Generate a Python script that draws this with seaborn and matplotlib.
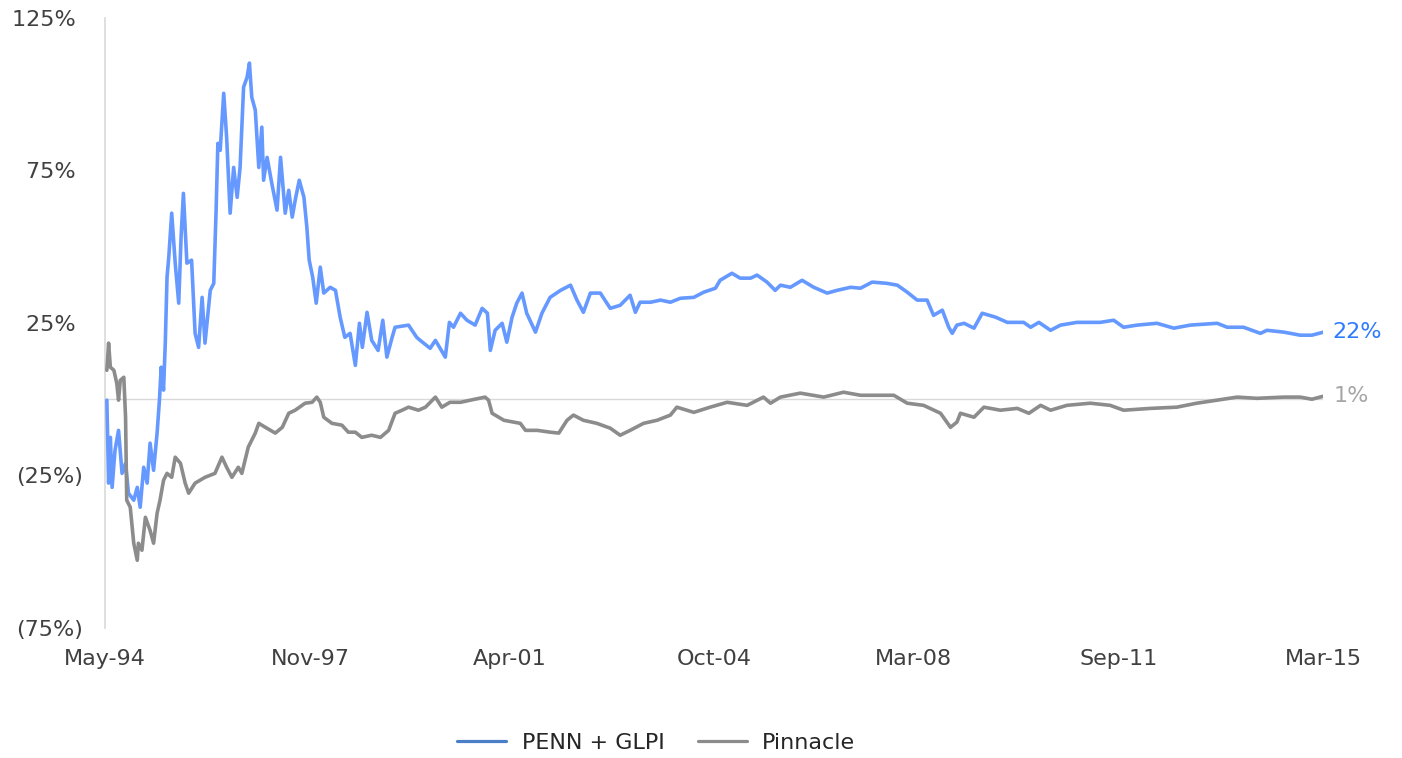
import numpy as np
import pandas as pd
import seaborn as sns
import matplotlib.pyplot as plt
import matplotlib.dates as mdates
from matplotlib.lines import Line2D
from matplotlib.ticker import FuncFormatter

# decimal year, cumulative return in %
penn_year = [1994.36, 1994.39, 1994.42, 1994.45, 1994.50, 1994.56, 1994.62, 1994.68, 1994.73, 1994.82,
             1994.88, 1994.93, 1994.99, 1995.05, 1995.10, 1995.16, 1995.22, 1995.26, 1995.29, 1995.33,
             1995.36, 1995.39, 1995.42, 1995.47, 1995.53, 1995.59, 1995.63, 1995.67, 1995.73, 1995.81,
             1995.87, 1995.93, 1995.99, 1996.04, 1996.13, 1996.19, 1996.23, 1996.26, 1996.30, 1996.36,
             1996.41, 1996.47, 1996.53, 1996.59, 1996.64, 1996.70, 1996.76, 1996.80, 1996.84, 1996.90,
             1996.96, 1997.01, 1997.04, 1997.10, 1997.18, 1997.27, 1997.33, 1997.41, 1997.47, 1997.53,
             1997.58, 1997.65, 1997.73, 1997.78, 1997.82, 1997.88, 1997.94, 1998.01, 1998.07, 1998.18,
             1998.27, 1998.35, 1998.43, 1998.52, 1998.61, 1998.68, 1998.73, 1998.81, 1998.89, 1999.00,
             1999.08, 1999.15, 1999.24, 1999.29, 1999.52, 1999.66, 1999.72, 1999.89, 1999.98, 2000.06,
             2000.15, 2000.22, 2000.29, 2000.41, 2000.52, 2000.66, 2000.78, 2000.87, 2000.92, 2001.00,
             2001.12, 2001.20, 2001.29, 2001.37, 2001.46, 2001.54, 2001.69, 2001.80, 2001.94, 2002.12,
             2002.29, 2002.40, 2002.51, 2002.63, 2002.80, 2002.97, 2003.14, 2003.31, 2003.40, 2003.48,
             2003.66, 2003.83, 2004.00, 2004.17, 2004.40, 2004.57, 2004.77, 2004.85, 2005.05, 2005.19,
             2005.37, 2005.48, 2005.65, 2005.79, 2005.88, 2006.05, 2006.25, 2006.45, 2006.68, 2006.85,
             2007.08, 2007.25, 2007.45, 2007.70, 2007.88, 2008.05, 2008.22, 2008.39, 2008.50, 2008.65,
             2008.76, 2008.82, 2008.90, 2009.02, 2009.19, 2009.33, 2009.56, 2009.76, 2010.04, 2010.16,
             2010.30, 2010.50, 2010.67, 2010.95, 2011.35, 2011.58, 2011.75, 2011.98, 2012.32, 2012.61,
             2012.89, 2013.35, 2013.52, 2013.80, 2014.09, 2014.20, 2014.49, 2014.77, 2014.97, 2015.17]
penn_ret = [-0.3, -27.5, -12.5, -28.9, -16.7, -10.2, -24.3, -21.0, -30.8, -33.1,
            -28.9, -35.4, -22.3, -27.5, -14.4, -23.3, -11.1, -0.3, 10.5, 3.0,
            18.4, 40.0, 46.6, 61.0, 44.6, 31.5, 53.1, 67.5, 44.6, 45.6,
            21.6, 17.0, 33.4, 18.4, 35.7, 38.0, 62.0, 83.9, 81.6, 100.3,
            85.9, 61.0, 76.0, 66.2, 76.0, 102.3, 105.6, 110.2, 99.0, 94.8,
            76.0, 89.2, 71.8, 79.3, 70.8, 62.0, 79.3, 61.0, 68.5, 59.7,
            65.2, 71.8, 66.2, 56.4, 45.6, 40.0, 31.5, 43.3, 34.8, 36.7,
            35.7, 26.9, 20.3, 21.6, 11.1, 24.9, 17.0, 28.5, 19.3, 16.0,
            25.9, 13.8, 20.3, 23.6, 24.3, 20.3, 19.3, 16.7, 19.3, 16.7,
            13.8, 25.2, 23.6, 28.2, 25.9, 24.3, 29.8, 28.2, 16.0, 22.6,
            24.9, 18.7, 26.9, 31.5, 34.8, 28.2, 22.0, 28.2, 33.4, 35.7,
            37.4, 32.5, 28.5, 34.8, 34.8, 29.8, 30.8, 34.1, 28.5, 31.8,
            31.8, 32.5, 31.8, 33.1, 33.4, 35.1, 36.4, 39.0, 41.3, 39.7,
            39.7, 40.7, 38.4, 35.7, 37.4, 36.7, 39.0, 36.7, 34.8, 35.7,
            36.7, 36.4, 38.4, 38.0, 37.4, 35.1, 32.5, 32.5, 27.5, 29.2,
            23.6, 21.6, 24.3, 24.9, 23.3, 28.2, 26.9, 25.2, 25.2, 23.6,
            25.2, 22.6, 24.3, 25.2, 25.2, 25.9, 23.6, 24.3, 24.9, 23.3,
            24.3, 24.9, 23.6, 23.6, 21.6, 22.6, 22.0, 21.0, 21.0, 22.0]

pnk_year = [1994.36, 1994.39, 1994.42, 1994.48, 1994.53, 1994.56, 1994.59, 1994.65, 1994.68, 1994.70,
            1994.76, 1994.82, 1994.88, 1994.90, 1994.96, 1995.02, 1995.10, 1995.16, 1995.22, 1995.27,
            1995.33, 1995.39, 1995.47, 1995.53, 1995.62, 1995.70, 1995.76, 1995.87, 1996.04, 1996.21,
            1996.33, 1996.41, 1996.50, 1996.61, 1996.67, 1996.78, 1996.90, 1996.96, 1997.07, 1997.24,
            1997.36, 1997.47, 1997.58, 1997.75, 1997.87, 1997.95, 1998.01, 1998.07, 1998.21, 1998.38,
            1998.49, 1998.61, 1998.72, 1998.89, 1999.04, 1999.18, 1999.29, 1999.41, 1999.52, 1999.69,
            1999.81, 1999.98, 2000.09, 2000.23, 2000.41, 2000.58, 2000.83, 2000.89, 2000.95, 2001.15,
            2001.43, 2001.52, 2001.72, 2001.94, 2002.09, 2002.23, 2002.34, 2002.51, 2002.74, 2002.97,
            2003.14, 2003.31, 2003.54, 2003.77, 2004.00, 2004.11, 2004.40, 2004.68, 2004.97, 2005.31,
            2005.59, 2005.71, 2005.88, 2006.22, 2006.62, 2006.96, 2007.25, 2007.82, 2008.05, 2008.33,
            2008.62, 2008.79, 2008.90, 2008.96, 2009.19, 2009.36, 2009.64, 2009.93, 2010.13, 2010.33,
            2010.50, 2010.78, 2011.18, 2011.52, 2011.75, 2012.21, 2012.66, 2013.00, 2013.35, 2013.69,
            2014.03, 2014.49, 2014.77, 2014.97, 2015.17]
pnk_ret = [9.5, 18.4, 10.5, 9.5, 5.2, -0.3, 6.2, 7.2, -5.9, -33.1,
           -35.4, -47.2, -52.8, -47.2, -49.5, -38.7, -43.0, -47.2, -37.4, -33.1,
           -26.6, -24.3, -25.6, -19.0, -21.0, -27.5, -30.8, -27.5, -25.6, -24.3,
           -19.0, -22.3, -25.6, -22.3, -24.3, -15.7, -11.1, -7.9, -9.2, -11.1,
           -9.2, -4.6, -3.6, -1.3, -1.0, 0.7, -1.0, -5.9, -7.9, -8.5,
           -10.8, -10.8, -12.5, -11.8, -12.5, -10.2, -4.6, -3.6, -2.6, -3.6,
           -2.6, 0.7, -2.6, -1.0, -1.0, -0.3, 0.7, -0.3, -4.6, -6.9,
           -7.9, -10.2, -10.2, -10.8, -11.1, -6.9, -5.2, -6.9, -7.9, -9.5,
           -11.8, -10.2, -7.9, -6.9, -5.2, -2.6, -4.3, -2.6, -1.0, -2.0,
           0.7, -1.3, 0.7, 2.0, 0.7, 2.3, 1.3, 1.3, -1.3, -2.0,
           -4.6, -9.2, -7.5, -4.6, -5.9, -2.6, -3.6, -3.0, -4.6, -2.0,
           -3.6, -2.0, -1.3, -2.0, -3.6, -3.0, -2.6, -1.3, -0.3, 0.7,
           0.3, 0.7, 0.7, 0.0, 1.0]

tick_dates = ["1994-05-01", "1997-11-01", "2001-04-01", "2004-10-01",
              "2008-03-01", "2011-09-01", "2015-03-01"]
y_ticks = [-75, -25, 25, 75, 125]
series_names = ["PENN + GLPI", "Pinnacle"]
end_labels = ["22%", "1%"]


def to_date(years):
    years = np.asarray(years)
    base = pd.to_datetime(np.floor(years).astype(int).astype(str) + "-01-01")
    return base + pd.to_timedelta((years - np.floor(years)) * 365.25, unit="D")


def pct_label(v, pos):
    # accounting style: negatives in parentheses, positives padded to line up
    if v < 0:
        return f"({abs(v):.0f}%)"
    return f"{v:.0f}%\u2004"


df = pd.concat([
    pd.DataFrame({"date": to_date(penn_year), "ret": penn_ret, "series": series_names[0]}),
    pd.DataFrame({"date": to_date(pnk_year), "ret": pnk_ret, "series": series_names[1]}),
])

line_blue = "#6699FF"
line_gray = "#8C8C8C"

sns.set_style("white")
plt.rcParams["font.family"] = ["DejaVu Sans"]

fig = plt.figure(figsize=(14.02, 7.58), dpi=100)
ax = fig.add_axes([0.0749, 0.1715, 0.8688, 0.8048])

ax.axhline(0, color="#D9D9D9", linewidth=1, zorder=1)
sns.lineplot(data=df, x="date", y="ret", hue="series",
             palette={series_names[0]: line_blue, series_names[1]: line_gray},
             linewidth=2.6, legend=False, ax=ax, zorder=3)

ax.set_xlim(pd.Timestamp("1994-05-01"), pd.Timestamp("2015-03-01"))
ax.set_ylim(-75, 125)
ax.set_yticks(y_ticks)
ax.yaxis.set_major_formatter(FuncFormatter(pct_label))
ax.set_xticks(pd.to_datetime(tick_dates))
ax.xaxis.set_major_formatter(mdates.DateFormatter("%b-%y"))
ax.tick_params(axis="y", length=0, pad=16, labelsize=16, labelcolor="#404040")
ax.tick_params(axis="x", length=0, pad=15, labelsize=16, labelcolor="#404040")
ax.set_xlabel("")
ax.set_ylabel("")

for side in ["top", "right", "bottom"]:
    ax.spines[side].set_visible(False)
ax.spines["left"].set_color("#D9D9D9")
ax.spines["left"].set_linewidth(1.2)

# end-of-series labels
ax.annotate(end_labels[0], xy=(to_date([penn_year[-1]])[0], penn_ret[-1]), xytext=(6, 0),
            textcoords="offset points", va="center", ha="left", fontsize=16,
            color="#2F7BFF", annotation_clip=False)
ax.annotate(end_labels[1], xy=(to_date([pnk_year[-1]])[0], pnk_ret[-1]), xytext=(7, 0),
            textcoords="offset points", va="center", ha="left", fontsize=16,
            color="#A6A6A6", annotation_clip=False)

handles = [Line2D([], [], color="#4A7FC8", linewidth=2.3),
           Line2D([], [], color="#8C8C8C", linewidth=2.3)]
fig.legend(handles, series_names, loc="center", bbox_to_anchor=(0.468, 0.02),
           ncol=2, frameon=False, fontsize=16, handlelength=2.2, handletextpad=0.7,
           columnspacing=1.5, labelcolor="#262626")

fig.savefig("out.png", dpi=100)
